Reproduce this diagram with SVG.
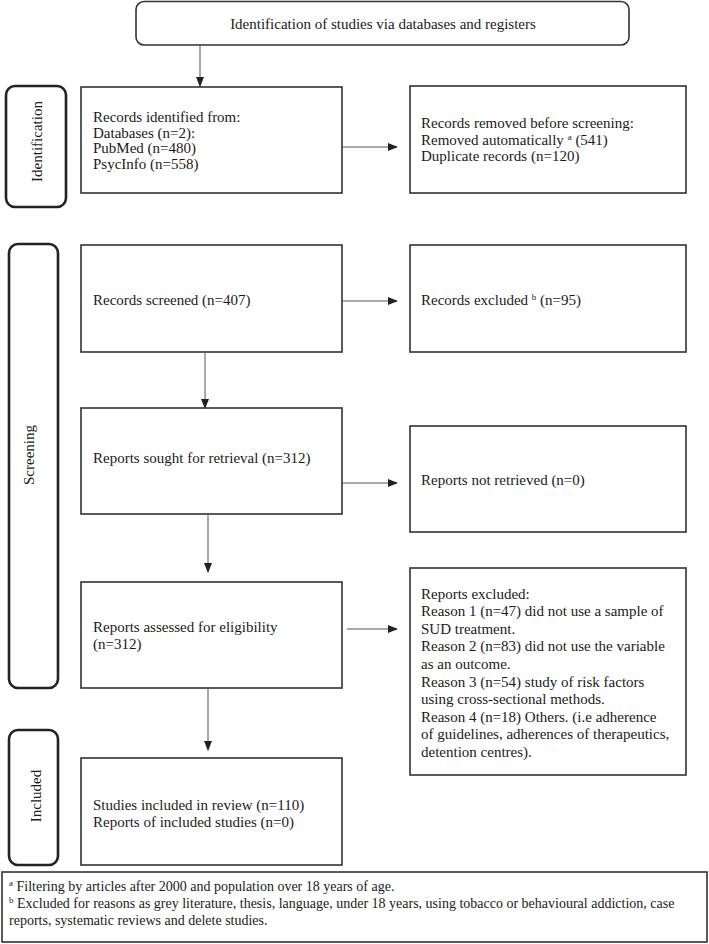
<svg xmlns="http://www.w3.org/2000/svg" width="709" height="944" viewBox="0 0 709 944">
<style>
text{font-family:"Liberation Serif","Times New Roman",serif;font-size:15px;fill:#1a1a1a}
.box{fill:#fff;stroke:#333;stroke-width:1.6}
.side{fill:#fff;stroke:#222;stroke-width:2.6}
.top{fill:#fff;stroke:#333;stroke-width:1.6}
.conn{stroke:#555;stroke-width:1;fill:none}
.fn{font-size:14px}
.sup{font-size:9px}
</style>
<defs>
<marker id="ah" markerWidth="10" markerHeight="8" refX="9" refY="4" orient="auto" markerUnits="userSpaceOnUse">
<path d="M0,0 L10,4 L0,8 Z" fill="#222"/>
</marker>
</defs>
<rect width="709" height="944" fill="#fff"/>

<g id="title">
<rect class="top" x="136" y="1.5" width="493" height="43.5" rx="8"/>
<text x="383" y="29" text-anchor="middle">Identification of studies via databases and registers</text>
</g>

<g id="label-identification">
<rect class="side" x="6" y="86" width="60" height="121" rx="9"/>
<text transform="translate(42,141.5) rotate(-90)" text-anchor="middle">Identification</text>
</g>
<g id="label-screening">
<rect class="side" x="9" y="244" width="49" height="444" rx="9"/>
<text transform="translate(34,455) rotate(-90)" text-anchor="middle">Screening</text>
</g>
<g id="label-included">
<rect class="side" x="9" y="730" width="49" height="135" rx="9"/>
<text transform="translate(41,796) rotate(-90)" text-anchor="middle">Included</text>
</g>

<g id="records-identified">
<rect class="box" x="81" y="87" width="261" height="106"/>
<text x="93" y="122">Records identified from:</text>
<text x="93" y="137.5">Databases (n=2):</text>
<text x="93" y="153">PubMed (n=480)</text>
<text x="93" y="168.5">PsycInfo (n=558)</text>
</g>
<g id="records-removed">
<rect class="box" x="410" y="86" width="276" height="107"/>
<text x="421" y="128">Records removed before screening:</text>
<text x="421" y="144.5">Removed automatically <tspan class="sup" dy="-5">a</tspan><tspan dy="5"> (541)</tspan></text>
<text x="421" y="161">Duplicate records (n=120)</text>
</g>

<g id="records-screened">
<rect class="box" x="81" y="245" width="261" height="107"/>
<text x="93" y="305">Records screened (n=407)</text>
</g>
<g id="records-excluded">
<rect class="box" x="410" y="245" width="276" height="107"/>
<text x="421" y="305">Records excluded <tspan class="sup" dy="-5">b</tspan><tspan dy="5"> (n=95)</tspan></text>
</g>

<g id="reports-sought">
<rect class="box" x="81" y="408" width="261" height="106"/>
<text x="93" y="463">Reports sought for retrieval (n=312)</text>
</g>
<g id="reports-not-retrieved">
<rect class="box" x="410" y="426" width="276" height="106"/>
<text x="421" y="485">Reports not retrieved (n=0)</text>
</g>

<g id="reports-assessed">
<rect class="box" x="81" y="582" width="261" height="106"/>
<text x="93" y="632">Reports assessed for eligibility</text>
<text x="93" y="649">(n=312)</text>
</g>
<g id="reports-excluded">
<rect class="box" x="410" y="568" width="276" height="207"/>
<text x="421" y="598.5">Reports excluded:</text>
<text x="421" y="616.1">Reason 1 (n=47) did not use a sample of</text>
<text x="421" y="633.7">SUD treatment.</text>
<text x="421" y="651.3">Reason 2 (n=83) did not use the variable</text>
<text x="421" y="668.9">as an outcome.</text>
<text x="421" y="686.5">Reason 3 (n=54) study of risk factors</text>
<text x="421" y="704.1">using cross-sectional methods.</text>
<text x="421" y="721.7">Reason 4 (n=18) Others. (i.e adherence</text>
<text x="421" y="739.3">of guidelines, adherences of therapeutics,</text>
<text x="421" y="756.9">detention centres).</text>
</g>

<g id="studies-included">
<rect class="box" x="81" y="758" width="261" height="107"/>
<text x="93" y="810">Studies included in review (n=110)</text>
<text x="93" y="827">Reports of included studies (n=0)</text>
</g>

<g id="footnote">
<rect class="box" x="2" y="872" width="705" height="70"/>
<text class="fn" x="9" y="891"><tspan class="sup" dy="-5">a</tspan><tspan dy="5"> Filtering by articles after 2000 and population over 18 years of age.</tspan></text>
<text class="fn" x="9" y="908"><tspan class="sup" dy="-5">b</tspan><tspan dy="5"> Excluded for reasons as grey literature, thesis, language, under 18 years, using tobacco or behavioural addiction, case</tspan></text>
<text class="fn" x="9" y="925">reports, systematic reviews and delete studies.</text>
</g>

<g id="connectors">
<line class="conn" x1="200" y1="45" x2="200" y2="86" marker-end="url(#ah)"/>
<line class="conn" x1="342" y1="147" x2="397" y2="147" marker-end="url(#ah)"/>
<line class="conn" x1="342" y1="301" x2="397" y2="301" marker-end="url(#ah)"/>
<line class="conn" x1="205" y1="352" x2="205" y2="408" marker-end="url(#ah)"/>
<line class="conn" x1="342" y1="483" x2="397" y2="483" marker-end="url(#ah)"/>
<line class="conn" x1="208" y1="514" x2="208" y2="572" marker-end="url(#ah)"/>
<line class="conn" x1="347" y1="629" x2="397" y2="629" marker-end="url(#ah)"/>
<line class="conn" x1="208" y1="688" x2="208" y2="750" marker-end="url(#ah)"/>
</g>
</svg>
